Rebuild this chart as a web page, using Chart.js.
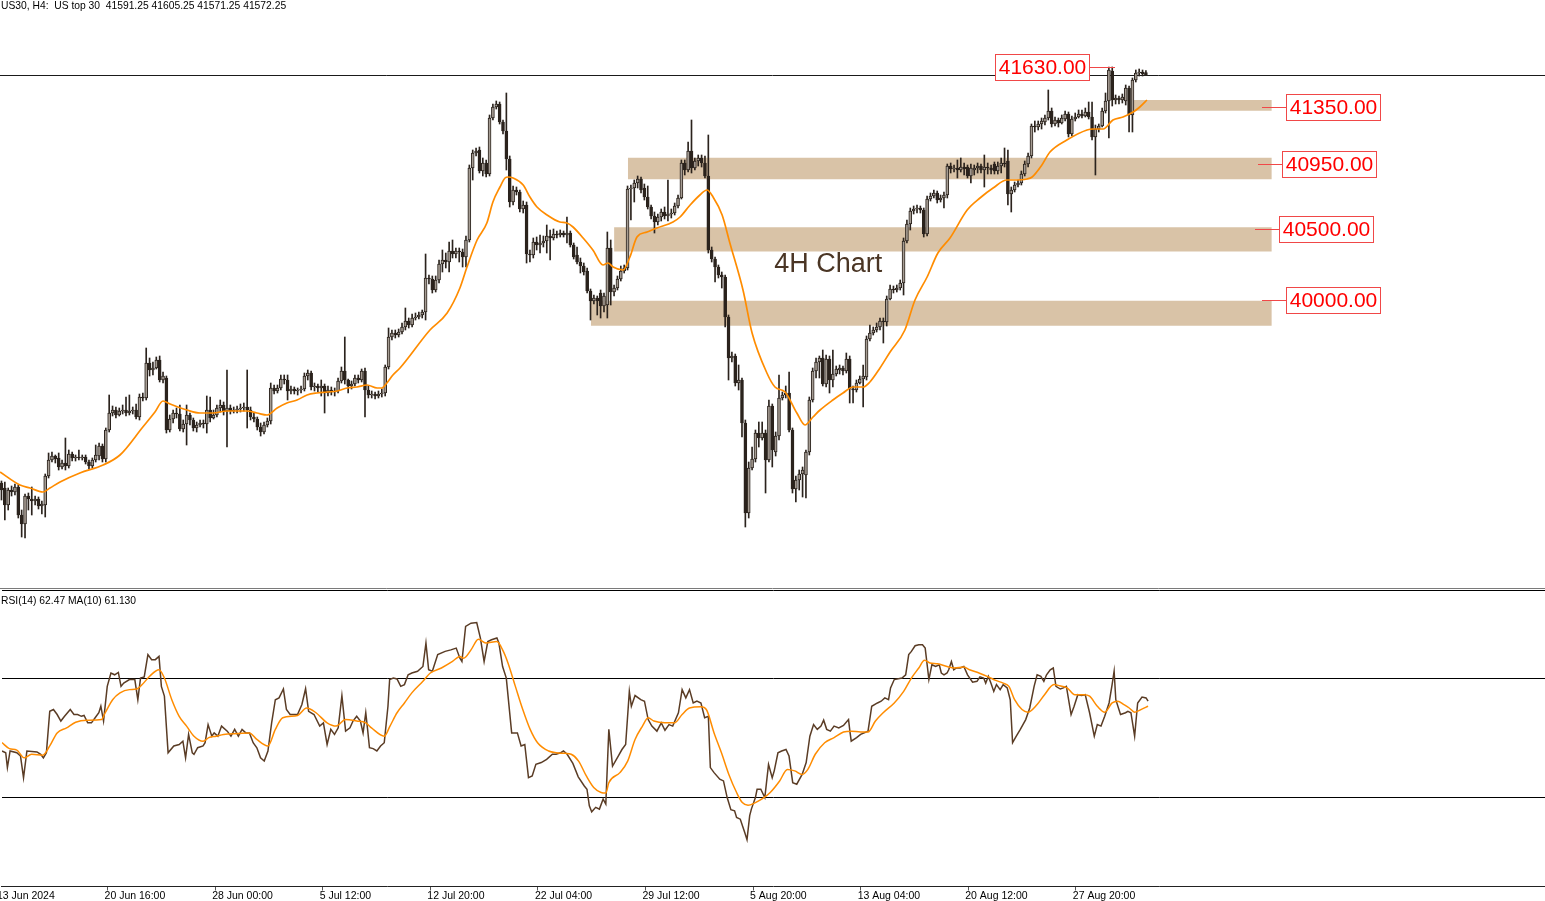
<!DOCTYPE html>
<html>
<head>
<meta charset="utf-8">
<script src="https://cdn.jsdelivr.net/npm/chart.js@4.4.1/dist/chart.umd.min.js"></script>
<style>
html, body { margin:0; padding:0; background:#fff; overflow:hidden; }
#wrap { position:relative; width:1545px; height:901px; background:#fff; }
canvas { position:absolute; left:0; }
#price { top:0; }
#rsi { top:590px; }
.txt { position:absolute; font-family:"Liberation Sans", Arial, sans-serif; font-size:10.3px; color:#000; white-space:pre; line-height:12px; }
</style>
</head>
<body>
<div id="wrap">
  <canvas id="price" width="1545" height="589" style="width:1545px;height:589px"></canvas>
  <canvas id="rsi" width="1545" height="311" style="width:1545px;height:311px"></canvas>
  <div class="txt" style="left:1px;top:0px">US30, H4:  US top 30  41591.25 41605.25 41571.25 41572.25</div>
  <div class="txt" style="left:1px;top:595px">RSI(14) 62.47 MA(10) 61.130</div>
</div>
<script>
// ---- 4H candles, one per bar (bar 0 = 13 Jun 2024 00:00) ----
const opens = [
  38705,38719,38684,38565,38670,38656,38691,38495,38432,38628,
  38607,38593,38607,38558,38565,38768,38880,38908,38894,38831,
  38859,38838,38922,38894,38901,38894,38901,38866,38838,38880,
  38908,38978,38887,39090,39209,39230,39195,39223,39230,39209,
  39223,39230,39181,39321,39314,39559,39510,39524,39580,39440,
  39454,39090,39167,39209,39202,39097,39132,39195,39160,39104,
  39125,39139,39132,39230,39174,39195,39244,39265,39223,39244,
  39223,39230,39237,39244,39251,39230,39181,39167,39111,39076,
  39125,39153,39384,39363,39384,39447,39440,39363,39377,39363,
  39370,39377,39468,39489,39391,39398,39384,39398,39349,39370,
  39356,39363,39433,39503,39440,39398,39412,39454,39440,39503,
  39370,39335,39342,39328,39342,39349,39531,39741,39769,39755,
  39776,39811,39853,39825,39874,39881,39895,39916,40154,40147,
  40070,40140,40252,40280,40266,40343,40322,40343,40336,40301,
  40420,40924,41029,41050,40903,40959,40882,41274,41351,41372,
  41246,41183,40987,40686,40770,40756,40637,40665,40322,40315,
  40406,40385,40399,40413,40448,40434,40462,40455,40469,40455,
  40469,40385,40315,40266,40238,40203,40063,39993,40014,40049,
  39958,39965,40364,40056,40084,40147,40203,40224,40777,40784,
  40819,40847,40784,40721,40651,40588,40546,40581,40616,40588,
  40602,40609,40658,40714,40959,40910,41043,40924,40973,40994,
  40959,40868,40350,40287,40231,40175,40161,39881,39594,39608,
  39419,39440,39139,38509,38824,38887,39069,39034,39069,38880,
  39258,38936,39048,39314,39335,39349,39090,38677,38740,38782,
  38775,38936,39300,39503,39566,39594,39412,39587,39440,39482,
  39510,39524,39503,39587,39377,39370,39419,39447,39461,39727,
  39769,39790,39811,39853,39846,40007,40077,40070,40084,40119,
  40413,40532,40623,40637,40644,40630,40462,40707,40728,40749,
  40700,40714,40735,40938,40917,40924,40910,40931,40931,40868,
  40910,40924,40938,40910,40931,40924,40952,40903,40938,40959,
  40973,40742,40770,40805,40819,40882,40952,41008,41218,41211,
  41232,41246,41274,41323,41232,41260,41239,41267,41302,41162,
  41267,41281,41302,41288,41316,41281,41141,41197,41218,41323,
  41393,41603,41400,41414,41400,41393,41484,41295,41540,41589,
  41596,41591.25
];
const highs = [
  38810,38733,38726,38684,38698,38712,38705,38530,38642,38649,
  38691,38628,38621,38593,38782,38929,38936,38915,38929,38880,
  39034,38950,38936,38915,38950,38915,38915,38880,38894,38985,
  38999,38992,39104,39335,39258,39251,39244,39265,39321,39335,
  39251,39272,39342,39349,39664,39594,39566,39601,39608,39496,
  39468,39195,39230,39244,39265,39160,39265,39209,39174,39146,
  39160,39160,39328,39321,39230,39265,39300,39286,39510,39265,
  39251,39258,39272,39279,39510,39251,39209,39181,39139,39146,
  39174,39419,39405,39405,39475,39475,39475,39398,39391,39384,
  39398,39489,39510,39503,39419,39412,39440,39412,39398,39391,
  39384,39454,39531,39741,39447,39433,39475,39475,39517,39524,
  39398,39363,39356,39363,39377,39545,39804,39790,39790,39797,
  39839,39944,39874,39902,39909,39916,39930,40322,40175,40168,
  40168,40280,40350,40329,40406,40420,40364,40364,40357,40448,
  40945,41050,41064,41071,40994,40980,41295,41372,41393,41386,
  41260,41449,41008,40798,40791,40770,40693,40686,40350,40434,
  40441,40455,40448,40525,40490,40497,40483,40490,40483,40581,
  40483,40399,40371,40294,40259,40224,40077,40035,40028,40070,
  40049,40476,40420,40105,40168,40238,40245,40798,40805,40840,
  40868,40861,40812,40798,40665,40616,40602,40637,40651,40840,
  40637,40679,40735,40980,40980,41106,41260,40994,41015,41015,
  41008,41155,40371,40301,40245,40196,40175,39895,39636,39622,
  39545,39454,39160,38866,38971,39090,39146,39146,39090,39300,
  39272,39076,39475,39356,39398,39496,39104,38768,38810,38831,
  38950,39321,39524,39594,39608,39650,39615,39608,39650,39538,
  39545,39538,39629,39608,39398,39440,39468,39545,39748,39825,
  39811,39839,39874,39874,40028,40105,40098,40105,40140,40434,
  40560,40644,40658,40665,40658,40644,40728,40749,40770,40763,
  40735,40756,40952,40959,40945,40980,40994,40959,40945,40952,
  40945,40959,40952,41015,40959,40945,40966,40966,40994,41064,
  41050,40791,40826,40840,40903,40973,41029,41232,41253,41253,
  41274,41295,41470,41344,41281,41274,41295,41323,41316,41288,
  41309,41330,41330,41344,41386,41386,41225,41232,41344,41449,
  41631,41631,41435,41428,41442,41505,41498,41554,41610,41617,
  41610,41605.25
];
const lows = [
  38635,38600,38460,38530,38628,38635,38474,38341,38334,38530,
  38495,38565,38537,38502,38481,38754,38866,38859,38810,38817,
  38810,38824,38873,38873,38880,38880,38852,38817,38824,38866,
  38880,38866,38866,39076,39188,39174,39188,39202,39188,39195,
  39202,39167,39160,39293,39300,39468,39475,39517,39426,39419,
  39069,39076,39139,39174,39083,39076,38985,39125,39083,39076,
  39111,39104,39069,39146,39167,39181,39216,39195,38971,39202,
  39209,39209,39216,39223,39104,39160,39146,39090,39048,39062,
  39111,39132,39342,39349,39370,39412,39300,39342,39342,39335,
  39349,39363,39440,39370,39363,39356,39328,39209,39328,39335,
  39328,39349,39419,39412,39349,39377,39398,39419,39426,39181,
  39314,39314,39307,39314,39321,39328,39517,39720,39734,39741,
  39762,39790,39804,39811,39860,39867,39874,39860,40112,40049,
  40056,40119,40196,40224,40196,40294,40294,40266,40231,40231,
  40406,40840,41008,40889,40868,40861,40868,41260,41337,41232,
  41162,40910,40651,40665,40735,40616,40609,40259,40266,40294,
  40350,40329,40371,40329,40280,40420,40434,40441,40441,40399,
  40371,40287,40252,40189,40175,40049,39860,39972,39895,39874,
  39916,39874,39965,40028,40070,40133,40189,40210,40560,40686,
  40784,40749,40700,40637,40567,40469,40525,40553,40567,40553,
  40574,40595,40644,40707,40875,40896,40889,40910,40938,40931,
  40854,40329,40266,40126,40154,40084,39811,39440,39566,39398,
  39370,39041,38411,38474,38810,38866,38971,39020,38649,38866,
  38831,38908,39020,39300,39314,39076,38649,38586,38670,38621,
  38614,38915,39286,39454,39454,39398,39391,39349,39391,39468,
  39482,39475,39489,39279,39279,39356,39412,39251,39440,39713,
  39755,39776,39790,39699,39818,40000,40049,40056,40070,40035,
  40399,40490,40602,40609,40609,40441,40448,40693,40714,40679,
  40686,40644,40714,40889,40896,40854,40896,40875,40854,40819,
  40875,40889,40889,40791,40882,40882,40882,40882,40889,40931,
  40665,40616,40756,40791,40805,40868,40931,40994,41176,41190,
  41197,41225,41260,41211,41218,41211,41232,41253,41141,41148,
  41253,41274,41274,41281,41267,41120,40875,41176,41211,41309,
  41134,41358,41372,41372,41379,41365,41176,41176,41526,41568,
  41568,41571.25
];
const closes = [
  38719,38670,38565,38670,38656,38691,38495,38432,38628,38607,
  38593,38607,38558,38572,38768,38880,38908,38887,38831,38859,
  38838,38922,38894,38901,38894,38901,38866,38838,38880,38915,
  38978,38887,39090,39209,39230,39195,39223,39230,39209,39223,
  39230,39181,39321,39314,39559,39510,39524,39580,39440,39468,
  39090,39167,39209,39202,39097,39132,39195,39160,39104,39125,
  39139,39132,39230,39174,39195,39244,39265,39223,39244,39223,
  39230,39237,39244,39251,39230,39181,39167,39111,39076,39125,
  39153,39384,39363,39384,39447,39440,39363,39377,39363,39370,
  39377,39468,39489,39391,39398,39384,39398,39349,39370,39356,
  39363,39433,39503,39440,39398,39412,39454,39440,39503,39370,
  39335,39342,39328,39342,39349,39531,39741,39769,39755,39776,
  39811,39853,39825,39874,39881,39895,39916,40154,40147,40070,
  40140,40252,40280,40266,40343,40322,40343,40336,40301,40420,
  40924,41029,41043,40903,40959,40882,41274,41351,41372,41246,
  41183,40987,40686,40770,40756,40637,40665,40322,40315,40406,
  40385,40399,40413,40448,40434,40462,40455,40469,40455,40469,
  40385,40301,40266,40238,40196,40063,39993,40014,39993,39958,
  40028,40364,40056,40084,40147,40203,40224,40777,40784,40819,
  40847,40770,40721,40651,40588,40546,40581,40616,40588,40602,
  40609,40658,40714,40959,40910,41043,40924,40973,40994,40959,
  40868,40350,40287,40231,40175,40161,39881,39594,39608,39419,
  39440,39139,38509,38824,38887,39069,39034,39069,38880,39258,
  38950,39048,39314,39335,39349,39090,38677,38740,38782,38810,
  38936,39300,39503,39566,39594,39412,39587,39440,39482,39517,
  39524,39503,39587,39377,39370,39419,39447,39468,39727,39769,
  39790,39811,39853,39846,40007,40077,40070,40084,40119,40413,
  40532,40623,40637,40644,40630,40462,40707,40728,40749,40700,
  40714,40735,40938,40917,40924,40910,40931,40917,40868,40924,
  40924,40938,40910,40931,40924,40910,40903,40938,40959,40952,
  40742,40770,40805,40819,40882,40952,41008,41218,41211,41232,
  41253,41274,41323,41232,41260,41239,41274,41302,41162,41267,
  41281,41302,41288,41316,41281,41141,41197,41218,41323,41393,
  41610,41400,41414,41400,41421,41484,41295,41540,41589,41596,
  41582,41572.25
];

// moving average on price, read as [bar, price]
const priceMA = [
  [0.6,38796],[6.5,38705],[9.5,38684],[13.3,38656],[15.4,38684],[18.4,38726],[24.3,38789],[31.2,38845],
  [36.2,38915],[43.0,39111],[46.6,39216],[49.0,39293],[51.1,39272],[56.1,39230],[60.0,39209],[63.8,39209],
  [68.0,39223],[73.9,39223],[76.9,39209],[79.9,39195],[82.9,39244],[85.8,39279],[88.8,39300],[91.8,39335],
  [94.7,39349],[97.7,39356],[100.7,39363],[103.7,39384],[106.6,39391],[109.6,39405],[112.6,39384],[114.0,39384],
  [115.5,39419],[117.3,39475],[119.4,39524],[128.3,39790],[133.4,39909],[137.2,40084],[139.3,40231],[142.3,40420],
  [145.2,40539],[147.0,40686],[149.1,40791],[150.6,40854],[151.5,40861],[153.0,40854],[156.0,40805],[158.0,40721],
  [160.1,40651],[163.1,40595],[166.9,40546],[169.0,40539],[170.8,40511],[173.8,40434],[176.7,40350],[179.7,40245],
  [181.2,40259],[182.7,40231],[185.7,40210],[187.7,40301],[189.8,40441],[192.8,40476],[195.7,40504],[200.5,40546],
  [202.6,40581],[205.6,40665],[208.5,40735],[210.6,40770],[212.4,40721],[215.1,40595],[217.4,40399],[221.3,40070],
  [224.0,39769],[228.4,39489],[230.8,39391],[233.8,39356],[237.3,39209],[239.7,39125],[242.1,39181],[244.2,39230],
  [248.0,39300],[251.0,39349],[254.0,39391],[257.0,39391],[259.0,39426],[262.0,39524],[265.0,39636],[269.4,39790],
  [272.4,40000],[276.0,40161],[279.2,40329],[282.8,40434],[287.9,40630],[291.7,40714],[295.6,40784],[299.7,40840],
  [301.5,40840],[305.7,40847],[307.2,40861],[310.1,40945],[312.5,41036],[317.5,41120],[323.5,41190],[325.3,41197],
  [328.3,41197],[331.2,41260],[334.2,41281],[337.2,41316],[339.2,41351],[341.3,41400]
];

// RSI(14) and its MA(10), read as [bar, value]
const rsi = [
  [0.6,45.7],[1.7,45.1],[2.2,40.1],[3.0,45.7],[5.0,45.1],[6.1,44.0],[7.0,36.7],[8.0,45.7],[11.0,45.4],[12.1,44.6],
  [12.9,43.4],[13.8,45.1],[14.8,59.1],[15.9,59.7],[17.0,58.0],[18.1,55.8],[19.2,57.4],[20.9,59.7],[22.0,58.0],[23.1,58.0],
  [24.2,57.4],[25.0,57.7],[26.1,55.2],[27.2,55.2],[28.3,56.9],[29.4,58.6],[30.0,60.8],[30.8,55.8],[31.9,67.5],[33.0,72.0],
  [34.1,71.4],[35.2,72.2],[36.0,67.5],[36.8,68.6],[38.5,69.8],[40.1,69.8],[41.0,63.0],[41.8,70.3],[42.9,70.7],[44.0,78.2],
  [45.1,76.5],[46.2,76.5],[47.3,77.6],[48.0,67.5],[48.9,64.2],[50.0,45.1],[51.7,47.4],[53.3,47.9],[54.4,49.0],[55.2,43.4],
  [56.1,51.3],[57.2,45.1],[57.7,44.6],[58.8,46.8],[60.4,47.4],[61.0,48.5],[61.9,54.6],[63.0,50.7],[63.7,51.8],[64.8,50.7],
  [65.9,54.1],[67.6,52.4],[68.7,50.7],[69.8,53.0],[70.9,50.7],[72.0,53.0],[73.1,51.8],[74.2,51.8],[75.3,48.5],[76.4,46.8],
  [77.5,43.4],[78.6,42.3],[79.7,45.7],[80.8,55.2],[81.9,63.0],[83.0,63.6],[84.3,66.6],[85.2,59.7],[86.3,58.0],[88.5,58.0],
  [89.8,61.4],[90.9,66.7],[91.8,59.1],[93.4,58.0],[95.1,54.1],[96.2,55.2],[97.3,47.9],[98.4,53.0],[99.5,51.3],[100.6,53.5],
  [101.7,64.4],[102.8,52.4],[104.1,53.5],[105.0,55.8],[106.1,57.4],[107.2,55.8],[108.0,51.8],[108.8,58.6],[109.4,52.4],[109.9,46.8],
  [111.0,46.5],[112.1,45.7],[113.2,47.4],[114.3,48.5],[115.4,60.8],[115.9,69.8],[117.0,70.3],[118.1,70.0],[119.2,67.5],[120.3,68.1],
  [121.4,71.4],[122.5,72.0],[124.2,72.6],[125.8,74.2],[126.7,82.1],[127.5,73.1],[128.6,72.6],[130.2,78.2],[132.4,79.3],[134.1,79.8],
  [135.7,80.4],[136.8,77.0],[137.4,75.9],[138.5,87.7],[140.1,88.8],[141.8,89.0],[142.9,83.8],[144.0,75.9],[145.1,82.6],[146.2,83.2],
  [147.8,83.8],[148.4,82.1],[149.5,74.2],[150.6,70.3],[152.2,51.8],[153.9,51.8],[155.0,47.4],[156.1,47.9],[157.2,36.7],[158.3,37.3],
  [159.4,41.2],[161.0,41.8],[162.6,42.9],[164.3,44.6],[165.4,44.6],[166.7,45.1],[167.6,45.7],[168.7,44.6],[170.4,41.5],[172.0,37.0],
  [173.8,33.9],[174.6,32.8],[175.3,27.2],[176.0,25.2],[177.2,26.7],[178.3,26.1],[179.4,29.5],[180.2,27.8],[181.1,53.0],[182.2,40.6],
  [183.9,44.0],[185.0,46.2],[186.1,47.9],[187.2,65.8],[187.8,60.8],[188.9,64.4],[190.6,63.0],[191.7,62.5],[192.8,56.3],[193.9,54.1],
  [195.4,52.4],[196.7,55.2],[197.8,52.7],[199.0,54.6],[200.1,54.1],[201.8,58.6],[202.9,66.4],[204.0,63.6],[205.1,66.4],[206.2,61.9],
  [207.3,62.5],[208.5,61.9],[209.6,56.9],[210.7,57.4],[211.3,40.1],[212.4,38.4],[214.1,36.2],[215.2,35.6],[216.3,30.0],[217.4,25.9],
  [218.5,25.5],[219.1,23.3],[220.2,22.7],[221.5,18.3],[222.2,15.8],[223.0,23.9],[223.5,26.1],[224.7,30.0],[225.2,32.8],[226.3,32.8],
  [227.5,30.0],[228.6,41.2],[229.7,36.7],[230.3,39.0],[231.4,45.1],[232.5,45.7],[233.8,46.2],[234.7,44.0],[235.8,35.0],[237.0,34.5],
  [238.6,37.8],[239.8,41.8],[240.9,50.7],[242.0,54.6],[243.1,53.0],[244.2,54.1],[245.0,56.1],[245.9,53.0],[247.0,52.4],[248.1,54.1],
  [249.5,53.5],[250.9,54.3],[252.4,56.3],[252.8,52.4],[253.2,49.0],[254.8,50.2],[256.0,51.3],[258.2,52.4],[259.3,60.8],[261.0,61.9],
  [262.1,62.5],[263.2,63.6],[264.3,63.0],[264.9,67.0],[266.0,69.8],[268.3,70.3],[269.4,71.4],[270.3,78.2],[271.1,79.3],[272.2,81.2],
  [273.3,81.5],[274.4,81.5],[275.2,80.4],[275.9,73.7],[276.3,69.8],[277.2,74.8],[278.3,74.2],[279.4,74.8],[280.0,72.0],[280.8,71.4],
  [281.7,72.0],[282.2,73.1],[283.0,75.9],[283.7,73.1],[284.5,73.7],[285.6,73.7],[286.7,74.2],[287.8,71.4],[289.3,68.9],[290.6,69.2],
  [291.5,70.7],[292.6,70.3],[293.2,68.6],[294.0,70.9],[294.9,68.1],[295.6,65.8],[296.4,68.1],[297.5,66.4],[298.4,68.1],[299.6,67.0],
  [300.5,63.0],[301.2,48.5],[302.3,50.7],[303.5,53.0],[305.1,56.3],[306.3,60.2],[307.6,67.5],[308.5,71.4],[309.6,70.9],[310.5,69.2],
  [311.3,71.4],[312.4,73.1],[313.3,73.7],[314.1,67.5],[315.4,66.6],[316.3,67.0],[317.2,67.5],[318.6,58.0],[319.5,60.8],[320.6,64.7],
  [321.7,64.4],[322.8,64.7],[324.1,58.6],[325.5,50.7],[326.4,54.6],[327.5,54.1],[328.6,57.4],[329.9,61.9],[330.8,68.1],[331.4,72.6],
  [331.9,63.0],[333.3,58.0],[334.8,58.6],[335.5,59.1],[336.4,58.6],[337.5,50.7],[338.4,61.9],[339.7,63.9],[340.9,63.6],[341.5,62.5]
];
const rsiMA = [
  [0.6,48.5],[2.8,46.5],[5.0,46.0],[7.2,43.4],[9.4,44.6],[12.7,44.3],[14.8,47.4],[17.0,51.8],[19.8,53.5],[22.5,55.4],
  [25.8,56.1],[30.2,56.3],[31.3,58.6],[33.5,63.0],[35.7,65.3],[38.5,66.4],[40.7,66.6],[42.3,68.1],[44.5,70.9],[47.3,73.1],
  [48.9,70.3],[51.1,63.0],[53.3,57.4],[55.5,54.1],[57.7,50.7],[60.4,49.0],[62.1,50.2],[64.3,50.7],[66.5,51.3],[70.9,51.6],
  [74.2,51.8],[76.4,49.6],[79.7,47.4],[81.9,53.0],[84.1,56.9],[88.5,57.7],[91.2,60.2],[94.0,58.6],[97.3,55.2],[100.0,54.1],
  [102.8,56.3],[106.1,55.8],[108.8,55.2],[110.5,53.5],[114.3,50.7],[116.0,54.1],[118.1,58.6],[120.3,61.9],[122.5,65.3],[125.8,69.2],
  [128.0,72.0],[131.3,73.7],[134.6,75.9],[136.8,77.6],[137.9,77.0],[140.1,79.8],[142.3,83.4],[144.5,82.1],[147.8,82.6],[149.5,79.8],
  [151.1,75.4],[153.3,67.5],[155.5,59.7],[157.7,53.0],[159.9,48.5],[163.2,45.7],[165.4,45.1],[168.1,44.9],[169.9,44.6],[172.1,42.3],
  [174.4,37.3],[176.6,33.4],[178.8,31.7],[180.2,31.5],[181.1,35.0],[184.4,38.4],[186.7,42.3],[188.9,49.6],[191.1,54.1],[192.8,56.9],
  [194.5,55.8],[197.8,55.2],[200.6,55.2],[202.9,58.0],[205.1,60.2],[208.5,60.6],[210.1,59.7],[212.4,51.8],[214.6,45.1],[216.8,37.8],
  [219.1,31.7],[220.8,28.3],[222.5,27.4],[224.7,28.3],[226.9,29.7],[229.1,31.7],[231.9,35.6],[234.2,39.5],[236.4,39.0],[238.6,37.8],
  [240.3,39.5],[242.5,44.6],[245.3,48.5],[248.1,50.2],[250.9,52.1],[253.2,52.4],[256.0,52.1],[258.2,52.1],[260.4,55.8],[262.7,58.6],
  [266.0,61.9],[268.8,65.8],[271.1,70.3],[273.3,73.7],[275.0,76.3],[276.6,75.4],[278.9,75.1],[281.7,74.2],[283.9,73.7],[286.7,74.0],
  [288.4,73.1],[291.2,72.0],[294.0,70.7],[296.2,69.5],[298.4,68.6],[300.1,67.5],[301.8,63.0],[304.0,59.7],[305.7,58.8],[308.5,61.4],
  [310.7,64.7],[313.5,68.1],[315.2,67.7],[317.4,67.0],[319.7,64.7],[322.5,64.7],[324.1,64.2],[326.4,60.8],[328.6,58.8],[330.8,61.9],
  [332.5,62.5],[334.2,61.4],[335.9,60.2],[337.5,58.8],[339.8,59.9],[341.5,60.8]
];
const rsiLevels = [30, 70, 100];

// time axis: one label every 32 bars
const tickBars = [0, 32, 64, 96, 128, 160, 192, 224, 256, 288, 320];
const tickLabels = ["13 Jun 2024", "20 Jun 16:00", "28 Jun 00:00", "5 Jul 12:00", "12 Jul 20:00", "22 Jul 04:00",
                    "29 Jul 12:00", "5 Aug 20:00", "13 Aug 04:00", "20 Aug 12:00", "27 Aug 20:00"];

// support / resistance zones
const zoneTop    = [41400, 40995, 40510, 39995];
const zoneBottom = [41325, 40845, 40340, 39820];
const zoneFrom   = [336.5, 187.1, 183.0, 176.1];
const zoneTo     = 378.4;

// price labels: [price, connector start bar, box edge bar]
const levelPrices = [41630, 41350, 40950, 40500, 40000];
const levelLineFrom = [331.8, 375.5, 374.3, 373.4, 375.5];
const levelBoxAt    = [324.4, 382.6, 381.4, 380.6, 382.6];

const lastClose = closes[closes.length - 1];

// view window (bar 0 sits just left of the frame, 3.366 px per bar)
const pxPerBar = 3.366;
const xMin = 1.9 / pxPerBar;
const xMax = xMin + 1545 / pxPerBar;
const priceMax = 42100;
const priceMin = priceMax - 7 * 588;

const dark = '#2b231d';
const bullFill = '#a59c93';
const orange = '#ff8c00';
const zoneColor = '#d9c3a7';

const bodies = opens.map((o, i) => ({ x: i, y: [o, closes[i]] }));
const wicks = lows.map((l, i) => ({ x: i, y: [l, highs[i]] }));
const bodyFill = opens.map((o, i) => closes[i] >= o ? bullFill : dark);

const zoneSets = zoneTop.map((t, k) => ({
    type: 'line',
    data: [{ x: zoneFrom[k], y: t }, { x: zoneTo, y: t }],
    borderWidth: 0,
    pointRadius: 0,
    backgroundColor: zoneColor,
    fill: { value: zoneBottom[k] },
    order: 10
}));

const labelsPlugin = {
    id: 'levelLabels',
    afterDatasetsDraw(chart) {
        const { ctx, scales } = chart;
        const x = scales.x, y = scales.y;
        ctx.save();
        // 4H Chart caption
        ctx.fillStyle = '#4a3524';
        ctx.font = '27px "Liberation Sans", Arial, sans-serif';
        ctx.textAlign = 'center';
        ctx.textBaseline = 'middle';
        ctx.fillText('4H Chart', x.getPixelForValue(246.6), y.getPixelForValue(40245));

        ctx.font = '21px "Liberation Sans", Arial, sans-serif';
        levelPrices.forEach((p, k) => {
            const py = Math.round(y.getPixelForValue(p)) + 0.5;
            const x0 = Math.round(x.getPixelForValue(levelLineFrom[k]));
            const edge = Math.round(x.getPixelForValue(levelBoxAt[k]));
            const w = 95, h = 27;
            const left = edge > x0 ? edge : edge - w;
            ctx.strokeStyle = '#f04848';
            ctx.lineWidth = 1;
            ctx.beginPath();
            ctx.moveTo(x0, py);
            ctx.lineTo(edge, py);
            ctx.stroke();
            const top = Math.round(py - h / 2);
            ctx.fillStyle = '#fff';
            ctx.fillRect(left, top, w, h);
            ctx.strokeRect(left + 0.5, top + 0.5, w - 1, h - 1);
            ctx.fillStyle = '#ff0000';
            ctx.fillText(p.toFixed(2), left + w / 2, top + h / 2 + 1);
        });
        ctx.restore();
    }
};

// hidden value axes take no width, so the plot starts at the left edge
const zeroWidth = ax => { ax.width = 0; };

new Chart(document.getElementById('price'), {
    type: 'bar',
    data: {
        datasets: [
            {
                type: 'line',
                data: priceMA.map(([b, v]) => ({ x: b, y: v })),
                borderColor: orange,
                borderWidth: 1.7,
                pointRadius: 0,
                cubicInterpolationMode: 'monotone',
                order: 1
            },
            {
                type: 'bar',
                data: bodies,
                backgroundColor: bodyFill,
                borderColor: dark,
                borderWidth: 1,
                borderSkipped: false,
                barThickness: 3,
                minBarLength: 1,
                grouped: false,
                order: 2
            },
            {
                type: 'bar',
                data: wicks,
                backgroundColor: dark,
                borderWidth: 0,
                barThickness: 1,
                grouped: false,
                order: 3
            },
            ...zoneSets
        ]
    },
    options: {
        responsive: false,
        animation: false,
        devicePixelRatio: 1,
        layout: { autoPadding: false, padding: { left: 0, right: 0, top: 0, bottom: 1 } },
        plugins: { legend: { display: false }, tooltip: { enabled: false } },
        scales: {
            x: {
                type: 'linear', min: xMin, max: xMax, offset: false, display: false,
                grid: { offset: false }
            },
            y: {
                type: 'linear', min: priceMin, max: priceMax, beginAtZero: false,
                afterBuildTicks: ax => { ax.ticks = [{ value: lastClose }, { value: priceMin }]; },
                afterFit: zeroWidth,
                ticks: { display: false },
                border: { display: false },
                grid: {
                    drawTicks: false,
                    color: ctx => ctx.tick && ctx.tick.value === priceMin ? '#7a7a7a' : '#1a1a1a',
                    lineWidth: 1
                }
            }
        }
    },
    plugins: [labelsPlugin]
});

new Chart(document.getElementById('rsi'), {
    type: 'line',
    data: {
        datasets: [
            {
                data: rsiMA.map(([b, v]) => ({ x: b, y: v })),
                borderColor: orange,
                borderWidth: 1.5,
                pointRadius: 0,
                cubicInterpolationMode: 'monotone',
                order: 1
            },
            {
                data: rsi.map(([b, v]) => ({ x: b, y: v })),
                borderColor: '#5a3c25',
                borderWidth: 1.5,
                pointRadius: 0,
                tension: 0,
                order: 2
            }
        ]
    },
    options: {
        responsive: false,
        animation: false,
        devicePixelRatio: 1,
        layout: { autoPadding: false, padding: 0 },
        plugins: { legend: { display: false }, tooltip: { enabled: false } },
        scales: {
            x: {
                type: 'linear', min: xMin, max: xMax, offset: false,
                afterBuildTicks: ax => { ax.ticks = tickBars.map(v => ({ value: v })); },
                border: { display: true, color: '#222', width: 1 },
                grid: { drawOnChartArea: false, drawTicks: true, tickLength: 4, color: '#555' },
                ticks: {
                    align: 'start', padding: 0, autoSkip: false, maxRotation: 0, minRotation: 0,
                    labelOffset: -3,
                    color: '#000',
                    font: { family: '"Liberation Sans", Arial, sans-serif', size: 10.5, lineHeight: 1 },
                    callback: v => tickLabels[tickBars.indexOf(v)] || ''
                }
            },
            y: {
                type: 'linear', min: 0, max: 100,
                afterBuildTicks: ax => { ax.ticks = rsiLevels.map(v => ({ value: v })); },
                afterFit: zeroWidth,
                ticks: { display: false },
                border: { display: false },
                grid: { drawTicks: false, color: '#000', lineWidth: 1 }
            }
        }
    }
});
</script>
</body>
</html>
